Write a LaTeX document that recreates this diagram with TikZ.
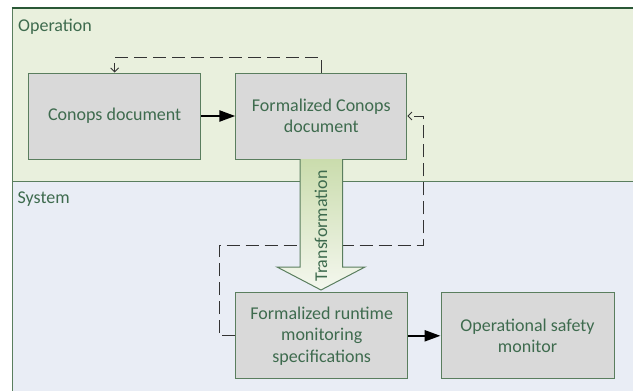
\documentclass[tikz,border=0pt]{standalone}
\usepackage{fontspec}
\setmainfont{Carlito}
\usetikzlibrary{arrows.meta}
\definecolor{opfill}{HTML}{E9F0DD}
\definecolor{sysfill}{HTML}{E9EDF5}
\definecolor{laneedge}{HTML}{2A5836}
\definecolor{boxfill}{HTML}{D9D9D9}
\definecolor{boxedge}{HTML}{5A7E5E}
\definecolor{textgreen}{HTML}{3E6B4E}
\definecolor{loopgrey}{HTML}{333333}
\definecolor{trtop}{HTML}{CADCAD}
\definecolor{trbot}{HTML}{F4F7EE}

\begin{document}
\begin{tikzpicture}[x=1pt,y=-1pt,
  font=\fontsize{18}{21.5}\selectfont,
  stepbox/.style={draw=boxedge, line width=1pt, fill=boxfill, text=textgreen,
    minimum width=172pt, minimum height=86pt, align=center, inner sep=2pt},
  flow/.style={line width=2.4pt, -{Triangle[length=16pt,width=11pt]}},
  loopline/.style={draw=loopgrey, line width=0.9pt, dash pattern=on 13pt off 6pt,
    -{Straight Barb[length=4pt,width=8pt]}},
  lanelabel/.style={text=textgreen, anchor=base west, inner sep=0pt}]

\useasboundingbox (0,0) rectangle (633,391);

% swim lanes
\begin{scope}
  \clip (0,0) rectangle (633,391);
  \fill[opfill] (12,8) rectangle (640,181);
  \fill[sysfill] (12,181) rectangle (640,400);
  \draw[boxedge, line width=1pt] (12,400) -- (12,8);
  \draw[laneedge, line width=1.3pt] (11.5,8) -- (640,8);
  \draw[boxedge, line width=1pt] (12,181) -- (640,181);
\end{scope}
\node[lanelabel] (oplabel) at (18,31.5) {Operation};
\node[lanelabel] (syslabel) at (17.5,203) {System};

% process boxes
\node[stepbox] (conops) at (114.7,116) {Conops document};
\node[stepbox, minimum width=171pt] (formal) at (321.3,116) {Formalized Conops\\document};
\node[stepbox] (runtime) at (321.7,335.8) {Formalized runtime\\monitoring\\specifications};
\node[stepbox, minimum width=173pt] (monitor) at (527.5,335.8) {Operational safety\\monitor};

% feedback loops
\coordinate (topcorner) at (321.3,57);
\draw[loopline] (formal.north) -- (topcorner) -| (conops.north);
\coordinate (leftcorner) at (219,335.8);
\coordinate (midcorner) at (423.3,245.7);
\draw[loopline] (runtime.west) -- (leftcorner) |- (midcorner) |- (formal.east);

% transformation arrow
\shade[top color=trtop, bottom color=trbot, draw=boxedge, line width=1pt]
  (300,159) -- (300,267) -- (277,267) -- (321,290) -- (365,267) -- (342.7,267) -- (342.7,159);
\node[rotate=90, text=textgreen] (trlabel) at (321,226) {Transformation};

% main flow
\draw[flow] (conops) -- (formal);
\draw[flow] (runtime) -- (monitor);
\end{tikzpicture}
\end{document}
